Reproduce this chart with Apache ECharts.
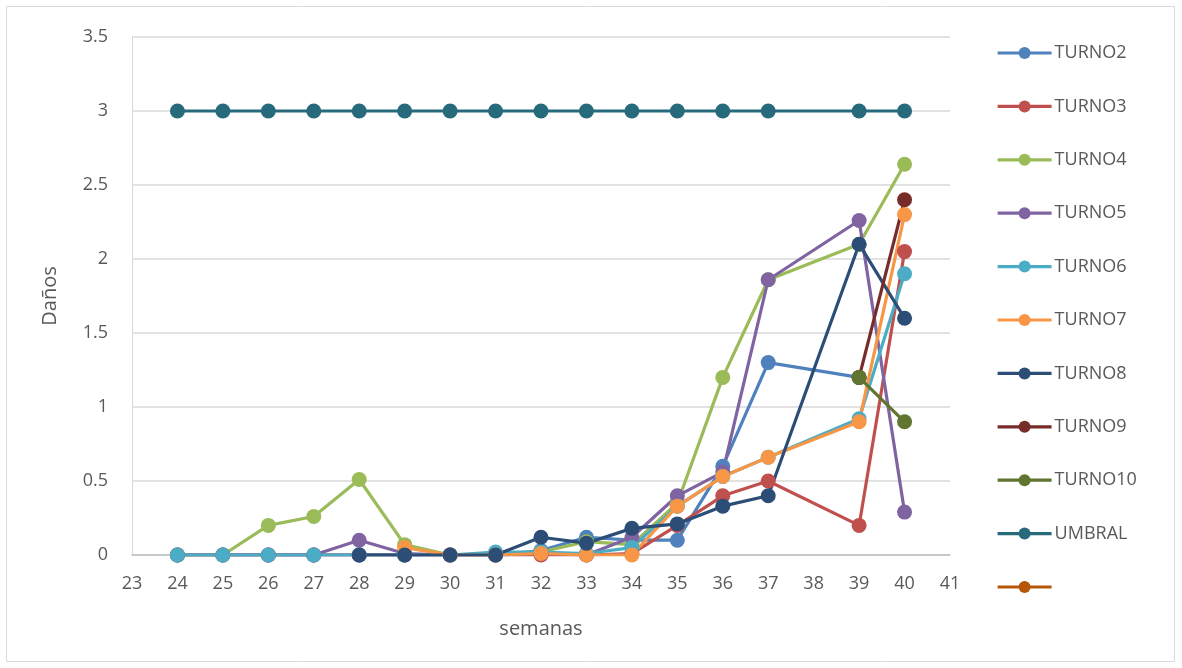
<!DOCTYPE html>
<html>
<head>
<meta charset="utf-8">
<script src="https://cdn.jsdelivr.net/npm/echarts@6/dist/echarts.min.js"></script>
<style>
  html, body { margin: 0; padding: 0; background: #fff; }
  #chart { width: 1182px; height: 668px; }
</style>
</head>
<body>
<div id="chart"></div>
<script>
// Weeks with recorded values (week 38 has no data)
const weeks = [24, 25, 26, 27, 28, 29, 30, 31, 32, 33, 34, 35, 36, 37, 39, 40];

const turno2  = [0, 0, 0, 0, 0, 0, 0, 0, 0.03, 0.12, 0.1, 0.1, 0.6, 1.3, 1.2, null];
const turno3  = [0, 0, 0, 0, 0, 0, 0, 0, 0, 0, 0.01, 0.2, 0.4, 0.5, 0.2, 2.05];
const turno4  = [0, 0, 0.2, 0.26, 0.51, 0.07, 0, 0.01, 0.02, 0.09, 0.07, 0.35, 1.2, 1.86, 2.1, 2.64];
const turno5  = [0, 0, 0, 0, 0.1, 0.01, 0, 0, 0.01, 0, 0.12, 0.4, 0.56, 1.86, 2.26, 0.29];
const turno6  = [0, 0, 0, 0, 0, 0, 0, 0.02, 0.02, 0.01, 0.05, 0.33, 0.53, 0.66, 0.92, 1.9];
const turno7  = [null, null, null, null, null, 0.05, 0, 0, 0.01, 0, 0, 0.33, 0.53, 0.66, 0.9, 2.3];
const turno8  = [null, null, null, null, 0, 0, 0, 0, 0.12, 0.08, 0.18, 0.21, 0.33, 0.4, 2.1, 1.6];
const turno9  = [null, null, null, null, null, null, null, null, null, null, null, null, null, null, 1.2, 2.4];
const turno10 = [null, null, null, null, null, null, null, null, null, null, null, null, null, null, 1.2, 0.9];
const umbral  = [3, 3, 3, 3, 3, 3, 3, 3, 3, 3, 3, 3, 3, 3, 3, 3];
const extra   = [];

const seriesNames = ['TURNO2', 'TURNO3', 'TURNO4', 'TURNO5', 'TURNO6', 'TURNO7', 'TURNO8', 'TURNO9', 'TURNO10', 'UMBRAL', ' '];
const seriesValues = [turno2, turno3, turno4, turno5, turno6, turno7, turno8, turno9, turno10, umbral, extra];
const seriesColors = ['#4F81BD', '#C0504D', '#9BBB59', '#8064A2', '#4BACC6', '#F79646', '#2C4D75', '#772C2A', '#5F7530', '#276A7C', '#B65708'];

const xMin = 23, xMax = 41, xStep = 1;
const yMin = 0, yMax = 3.5, yStep = 0.5;

const textColor = '#595959';
const fontFamily = '"Open Sans", "Liberation Sans", sans-serif';

function toPairs(vals) {
  const out = [];
  vals.forEach((v, i) => { if (v !== null && v !== undefined) out.push([weeks[i], v]); });
  return out;
}

const series = seriesNames.map((name, i) => ({
  name: name,
  type: 'line',
  data: toPairs(seriesValues[i]),
  symbol: 'circle',
  symbolSize: 15,
  showSymbol: true,
  lineStyle: { width: 3.2, color: seriesColors[i] },
  itemStyle: { color: seriesColors[i] },
  emphasis: { disabled: true },
  animation: false
}));

const chart = echarts.init(document.getElementById('chart'), null, { renderer: 'canvas' });
chart.setOption({
  backgroundColor: '#ffffff',
  color: seriesColors,
  animation: false,
  graphic: [{
    type: 'rect',
    shape: { x: 6.5, y: 6.5, width: 1168, height: 655 },
    style: { fill: 'none', stroke: '#d9d9d9', lineWidth: 1 },
    silent: true
  }],
  grid: { left: 132, right: 232, top: 37, bottom: 113, containLabel: false },
  legend: {
    orient: 'vertical',
    left: 996,
    top: 44,
    padding: 0,
    itemWidth: 54,
    itemHeight: 15,
    itemGap: 35.4,
    data: seriesNames,
    lineStyle: { width: 3.2 },
    textStyle: { color: textColor, fontSize: 18, fontFamily: fontFamily, padding: [0, 0, 0, -2] },
    selectedMode: false
  },
  xAxis: {
    type: 'value',
    min: xMin, max: xMax, interval: xStep,
    name: 'semanas',
    nameLocation: 'middle',
    nameGap: 64,
    nameTextStyle: { color: textColor, fontSize: 20, fontFamily: fontFamily },
    axisLine: { show: true, onZero: false, lineStyle: { color: '#bfbfbf', width: 1.5 } },
    axisTick: { show: false },
    axisLabel: { color: textColor, fontSize: 18, fontFamily: fontFamily, margin: 20 },
    splitLine: { show: false }
  },
  yAxis: {
    type: 'value',
    min: yMin, max: yMax, interval: yStep,
    name: 'Daños',
    nameLocation: 'middle',
    nameGap: 72,
    nameRotate: 90,
    nameTextStyle: { color: textColor, fontSize: 20, fontFamily: fontFamily },
    axisLine: { show: true, lineStyle: { color: '#d9d9d9', width: 1 } },
    axisTick: { show: false },
    axisLabel: { color: textColor, fontSize: 18, fontFamily: fontFamily, margin: 24 },
    splitLine: { show: true, lineStyle: { color: '#d9d9d9', width: 1.5 } }
  },
  series: series
});
</script>
</body>
</html>
